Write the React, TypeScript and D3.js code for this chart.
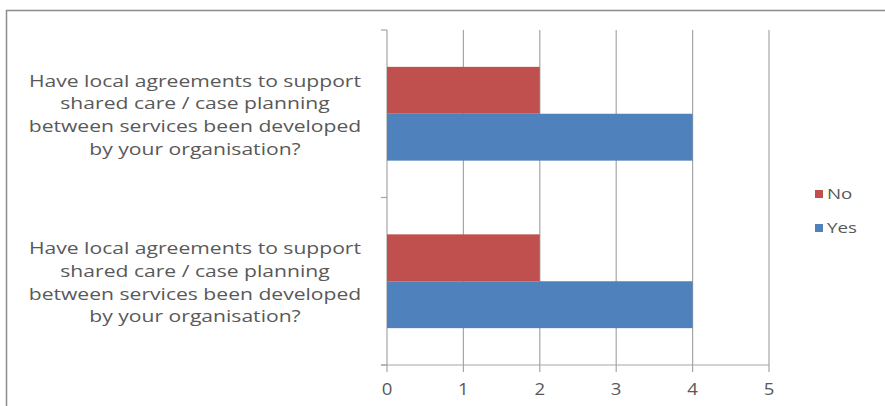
import React from "react";
import * as d3 from "d3";

const categories = [
  "Have local agreements to support shared care / case planning between services been developed by your organisation? (1)",
  "Have local agreements to support shared care / case planning between services been developed by your organisation? (2)",
];
const labelLines = [
  "Have local agreements to support",
  "shared care / case planning",
  "between services been developed",
  "by your organisation?",
];
const seriesNames = ["No", "Yes"];
const noValues = [2, 2];
const yesValues = [4, 4];
const xTicks = [0, 1, 2, 3, 4, 5];
const colors = ["#C0504D", "#4F81BD"];

export default function App() {
  const W = 885, H = 406;
  const left = 387, right = 769, top = 30, bottom = 365;
  const x = d3.scaleLinear().domain([0, 5]).range([left, right]);
  const y = d3.scaleBand().domain(categories).range([top, bottom]).paddingInner(0.44).paddingOuter(0.22);
  const sub = d3.scaleBand().domain(seriesNames).range([0, y.bandwidth()]);
  const values = [noValues, yesValues];
  const textColor = "#595959";
  const font = "'Open Sans', sans-serif";
  const lx = 195;
  return (
    <svg width={W} height={H} style={{ position: "absolute", left: 0, top: 0, background: "#fff" }}>
      <rect x={6.5} y={10.5} width={W} height={H} fill="#fff" stroke="#8c8c8c" strokeWidth={1.5} />
      {xTicks.map((t) => (
        <line key={"g" + t} x1={x(t)} x2={x(t)} y1={top} y2={bottom + 7} stroke="#a6a6a6" strokeWidth={1.2} />
      ))}
      {categories.map((c, i) =>
        seriesNames.map((s, j) => (
          <rect
            key={c + s}
            x={x(0)}
            y={(y(c) as number) + (sub(s) as number)}
            width={x(values[j][i]) - x(0)}
            height={sub.bandwidth()}
            fill={colors[j]}
          />
        ))
      )}
      <line x1={x(0) - 6} x2={x(5)} y1={bottom} y2={bottom} stroke="#a6a6a6" strokeWidth={1.2} />
      {[top, (top + bottom) / 2, bottom].map((v, i) => (
        <line key={"yt" + i} x1={x(0) - 6} x2={x(0)} y1={v} y2={v} stroke="#a6a6a6" strokeWidth={1.2} />
      ))}
      {xTicks.map((t) => (
        <text key={"t" + t} x={x(t)} y={bottom + 30} textAnchor="middle" fontFamily={font} fontSize={15.5} fill={textColor}
          transform={`translate(${x(t)},0) scale(1.2,1) translate(${-x(t)},0)`}>
          {t}
        </text>
      ))}
      {categories.map((c) => {
        const cy = (y(c) as number) + y.bandwidth() / 2;
        return (
          <text key={"l" + c} x={lx} textAnchor="middle" fontFamily={font} fontSize={16} fill={textColor}
            transform={`translate(${lx},0) scale(1.32,1) translate(${-lx},0)`}>
            {labelLines.map((ln, k) => (
              <tspan key={k} x={lx} y={cy - 27 + k * 22.7}>
                {ln}
              </tspan>
            ))}
          </text>
        );
      })}
      {seriesNames.map((s, j) => (
        <g key={"lg" + s} transform={`translate(815, ${195 + j * 34})`}>
          <rect x={0} y={-5} width={8} height={8} fill={colors[j]} />
          <text x={12} y={4} fontFamily={font} fontSize={15} fill={textColor} transform="translate(12,0) scale(1.25,1) translate(-12,0)">
            {s}
          </text>
        </g>
      ))}
    </svg>
  );
}
